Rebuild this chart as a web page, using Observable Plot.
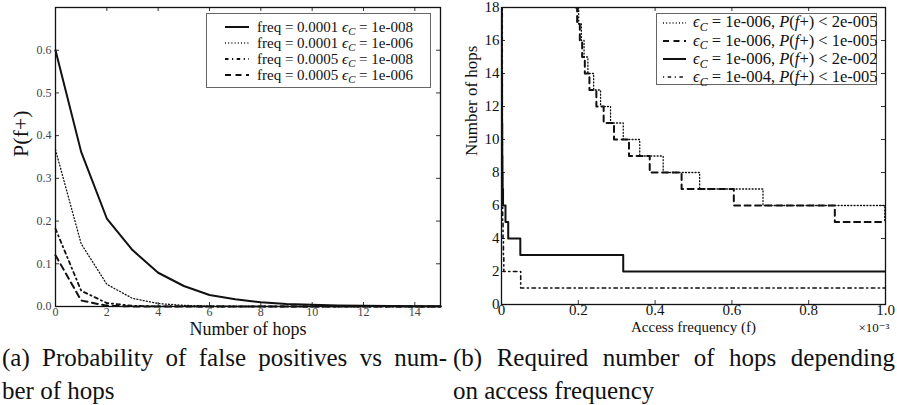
<!DOCTYPE html>
<html><head><meta charset="utf-8">
<script src="https://cdn.jsdelivr.net/npm/d3@7"></script>
<script src="https://cdn.jsdelivr.net/npm/@observablehq/plot@0.6"></script>
<style>
body{margin:0;background:#fff;}
#wrap{position:relative;width:897px;height:405px;overflow:hidden;font-family:"Liberation Serif","DejaVu Serif",serif;color:#111;}
.chart{position:absolute;top:0;}
.chart text{font-family:"Liberation Serif","DejaVu Serif",serif;}
.legend{position:absolute;background:#fff;border:1px solid #666;box-sizing:border-box;}
.row{position:absolute;left:0;white-space:nowrap;}
.row svg{position:absolute;}
.row span.t{position:absolute;white-space:nowrap;}
.sub{font-size:0.72em;position:relative;top:0.3em;font-style:italic;}
.cap{position:absolute;font-size:25px;line-height:33px;white-space:nowrap;}
.just{text-align:justify;text-align-last:justify;}
</style></head><body><div id="wrap"></div>
<script>
// ---------- (a) data ----------
const hops = [0,1,2,3,4,5,6,7,8,9,10,11,12,13,14,15];
const pSolid  = [0.600,0.362,0.206,0.132,0.079,0.048,0.027,0.017,0.010,0.006,0.004,0.0025,0.0015,0.0009,0.0005,0.0003];
const pDotted = [0.367,0.147,0.052,0.019,0.007,0.0026,0.001,0.0004,0.0002,0.0001,0,0,0,0,0,0];
const pDashDot= [0.182,0.037,0.008,0.0015,0.0003,0.0001,0,0,0,0,0,0,0,0,0,0];
const pDashed = [0.120,0.014,0.0017,0.0002,0,0,0,0,0,0,0,0,0,0,0,0];
const xTicksA = [0,2,4,6,8,10,12,14];
const yTicksA = [0,0.1,0.2,0.3,0.4,0.5,0.6];
const legFreq = ["0.0001","0.0001","0.0005","0.0005"];
const legEpsA = ["1e-008","1e-006","1e-008","1e-006"];

// ---------- (b) data ----------
const fDotted = [0.185,0.197,0.201,0.208,0.215,0.225,0.240,0.258,0.284,0.317,0.360,0.421,0.516,0.681,0.998,1.0];
const hDotted = [19,18,17,16,15,14,13,12,11,10,9,8,7,6,5,5];
const fDashed = [0.180,0.193,0.197,0.204,0.210,0.217,0.229,0.247,0.266,0.293,0.332,0.386,0.469,0.605,0.868,1.0];
const hDashed = [19,18,17,16,15,14,13,12,11,10,9,8,7,6,5,5];
const fSolid  = [0,0.001,0.0015,0.002,0.0025,0.003,0.004,0.0104,0.0175,0.049,0.317,1.0];
const hSolid  = [20,14,11,9,8,7,6,5,4,3,2,2];
const fDashDot= [0,0.002,0.003,0.004,0.005,0.006,0.050,1.0];
const hDashDot= [20,7,5,4,3,2,1,1];
const xTicksB = [0,0.2,0.4,0.6,0.8,1.0];
const yTicksB = [0,2,4,6,8,10,12,14,16,18];
const legEpsB = ["1e-006","1e-006","1e-006","1e-004"];
const legPB   = ["2e-005","1e-005","2e-002","1e-005"];

const serif = '"Liberation Serif","DejaVu Serif",serif';
const INK = "#111";
const styles = {
  solid:   {strokeWidth: 2, strokeDasharray: null},
  dotted:  {strokeWidth: 1.3, strokeDasharray: "1,2.2"},
  dashdot: {strokeWidth: 1.8, strokeDasharray: "3.5,3.5,1.2,3.5"},
  dashed:  {strokeWidth: 2, strokeDasharray: "6,4.5"},
  dashdotB:{strokeWidth: 1.6, strokeDasharray: "1.2,3.5,3.5,3.5"}
};

function inTicks(xt, yt, pw, ph, len) {
  return [
    Plot.tickX(xt, {x: d => d, insetTop: ph - len, stroke: "#333"}),
    Plot.tickX(xt, {x: d => d, insetBottom: ph - len, stroke: "#333"}),
    Plot.tickY(yt, {y: d => d, insetRight: pw - len, stroke: "#333"}),
    Plot.tickY(yt, {y: d => d, insetLeft: pw - len, stroke: "#333"})
  ];
}
function lineOf(xs, ys, st, extra = {}) {
  return Plot.line(xs, {x: d => d, y: (d, i) => ys[i], stroke: INK, strokeWidth: st.strokeWidth,
    strokeDasharray: st.strokeDasharray, ...extra});
}

const wrap = document.getElementById("wrap");

// ---------- chart (a) ----------
const A = {w: 445, h: 340, ml: 55, mr: 5, mt: 7, mb: 34};
const chartA = Plot.plot({
  width: A.w, height: A.h, marginLeft: A.ml, marginRight: A.mr, marginTop: A.mt, marginBottom: A.mb,
  style: {fontFamily: serif, background: "transparent", overflow: "visible", color: INK},
  x: {domain: [0, 15]}, y: {domain: [0, 0.7]},
  marks: [
    ...inTicks(xTicksA, yTicksA, A.w - A.ml - A.mr, A.h - A.mt - A.mb, 4),
    Plot.axisX(xTicksA, {tickSize: 0, tickPadding: 1, fontSize: 12, fill: "#444", label: null}),
    Plot.axisY(yTicksA, {tickSize: 0, tickPadding: 4, fontSize: 12, fill: "#444", label: null}),
    lineOf(hops, pSolid, styles.solid),
    lineOf(hops, pDotted, styles.dotted),
    lineOf(hops, pDashDot, styles.dashdot),
    lineOf(hops, pDashed, styles.dashed),
    Plot.frame({stroke: INK, strokeWidth: 1.3}),
    Plot.text(["P(f+)"], {text: d => d, frameAnchor: "left", dx: -35, rotate: -90, fontSize: 22, fill: INK}),
    Plot.text(["Number of hops"], {text: d => d, frameAnchor: "bottom", lineAnchor: "middle", dy: 23, fontSize: 18, fill: INK})
  ]
});
chartA.classList.add("chart"); chartA.style.left = "0px";
wrap.appendChild(chartA);

// ---------- chart (b) ----------
const B = {w: 457, h: 340, ml: 61, mr: 12, mt: 7, mb: 36};
const chartB = Plot.plot({
  width: B.w, height: B.h, marginLeft: B.ml, marginRight: B.mr, marginTop: B.mt, marginBottom: B.mb,
  style: {fontFamily: serif, background: "transparent", overflow: "visible", color: INK},
  x: {domain: [0, 1]}, y: {domain: [0, 18]},
  marks: [
    ...inTicks(xTicksB, yTicksB, B.w - B.ml - B.mr, B.h - B.mt - B.mb, 4),
    Plot.axisX(xTicksB, {tickSize: 0, tickPadding: 0, fontSize: 15, fill: INK, label: null,
      tickFormat: d => d === 0 ? "0" : d.toFixed(1)}),
    Plot.axisY(yTicksB, {tickSize: 0, tickPadding: 2, fontSize: 15, fill: INK, label: null}),
    lineOf(fDotted, hDotted, styles.dotted, {curve: "step-after", clip: true}),
    lineOf(fDashed, hDashed, styles.dashed, {curve: "step-after", clip: true}),
    lineOf(fSolid, hSolid, styles.solid, {curve: "step-after", clip: true}),
    lineOf(fDashDot, hDashDot, styles.dashdotB, {curve: "step-after", clip: true}),
    Plot.frame({stroke: INK, strokeWidth: 1.3}),
    Plot.text(["Number of hops"], {text: d => d, frameAnchor: "left", dx: -30, rotate: -90, fontSize: 17, fill: INK}),
    Plot.text(["Access frequency (f)"], {text: d => d, frameAnchor: "bottom", lineAnchor: "middle", dy: 23, fontSize: 15, fill: INK}),
    Plot.text(["×10⁻³"], {text: d => d, frameAnchor: "bottom-right", lineAnchor: "middle", dy: 23, dx: 4, textAnchor: "end", fontSize: 13, fill: INK})
  ]
});
chartB.classList.add("chart"); chartB.style.left = "440px";
wrap.appendChild(chartB);

// ---------- legends ----------
function sample(st, w) {
  const ns = "http://www.w3.org/2000/svg";
  const s = document.createElementNS(ns, "svg");
  s.setAttribute("width", w); s.setAttribute("height", 10);
  const l = document.createElementNS(ns, "line");
  l.setAttribute("x1", 0); l.setAttribute("x2", w); l.setAttribute("y1", 5); l.setAttribute("y2", 5);
  l.setAttribute("stroke", INK); l.setAttribute("stroke-width", st.strokeWidth);
  if (st.strokeDasharray) l.setAttribute("stroke-dasharray", st.strokeDasharray);
  s.appendChild(l);
  return s;
}
function legend(box, rows, rowH, firstC, sx, sw, tx, fs) {
  const d = document.createElement("div");
  d.className = "legend";
  Object.assign(d.style, {left: box[0] + "px", top: box[1] + "px", width: box[2] + "px", height: box[3] + "px"});
  rows.forEach((r, i) => {
    const row = document.createElement("div");
    row.className = "row";
    Object.assign(row.style, {top: (firstC + i * rowH - rowH / 2) + "px", height: rowH + "px", width: "100%"});
    const s = sample(r.st, sw); s.style.left = sx + "px"; s.style.top = (rowH / 2 - 5) + "px";
    row.appendChild(s);
    const t = document.createElement("span"); t.className = "t";
    Object.assign(t.style, {left: tx + "px", fontSize: fs + "px", lineHeight: rowH + "px", top: "0px"});
    t.innerHTML = r.html;
    row.appendChild(t);
    d.appendChild(row);
  });
  wrap.appendChild(d);
}
const eps = '<i>ϵ</i><span class="sub">C</span>';
const stA = [styles.solid, styles.dotted, styles.dashdot, styles.dashed];
legend([206, 13, 225, 75],
  legFreq.map((f, i) => ({st: stA[i], html: `freq = ${f} ${eps} = ${legEpsA[i]}`})),
  16, 12.5, 18, 24, 50, 15);
const stB = [styles.dotted, styles.dashed, styles.solid, styles.dashdotB];
legend([656, 13, 221, 72],
  legEpsB.map((e, i) => ({st: stB[i], html: `${eps} = ${e}, <i>P</i>(<i>f</i>+) &lt; ${legPB[i]}`})),
  18.3, 8.5, 6, 23, 36, 16.5);

// ---------- captions ----------
function caption(left, width, l1, l2) {
  const a = document.createElement("div");
  a.className = "cap just";
  Object.assign(a.style, {left: left + "px", top: "341px", width: width + "px"});
  a.textContent = l1;
  wrap.appendChild(a);
  const b = document.createElement("div");
  b.className = "cap";
  Object.assign(b.style, {left: left + "px", top: "374px"});
  b.textContent = l2;
  wrap.appendChild(b);
}
caption(2, 445, "(a) Probability of false positives vs num-", "ber of hops");
caption(453, 442, "(b) Required number of hops depending", "on access frequency");
</script>
</body></html>
